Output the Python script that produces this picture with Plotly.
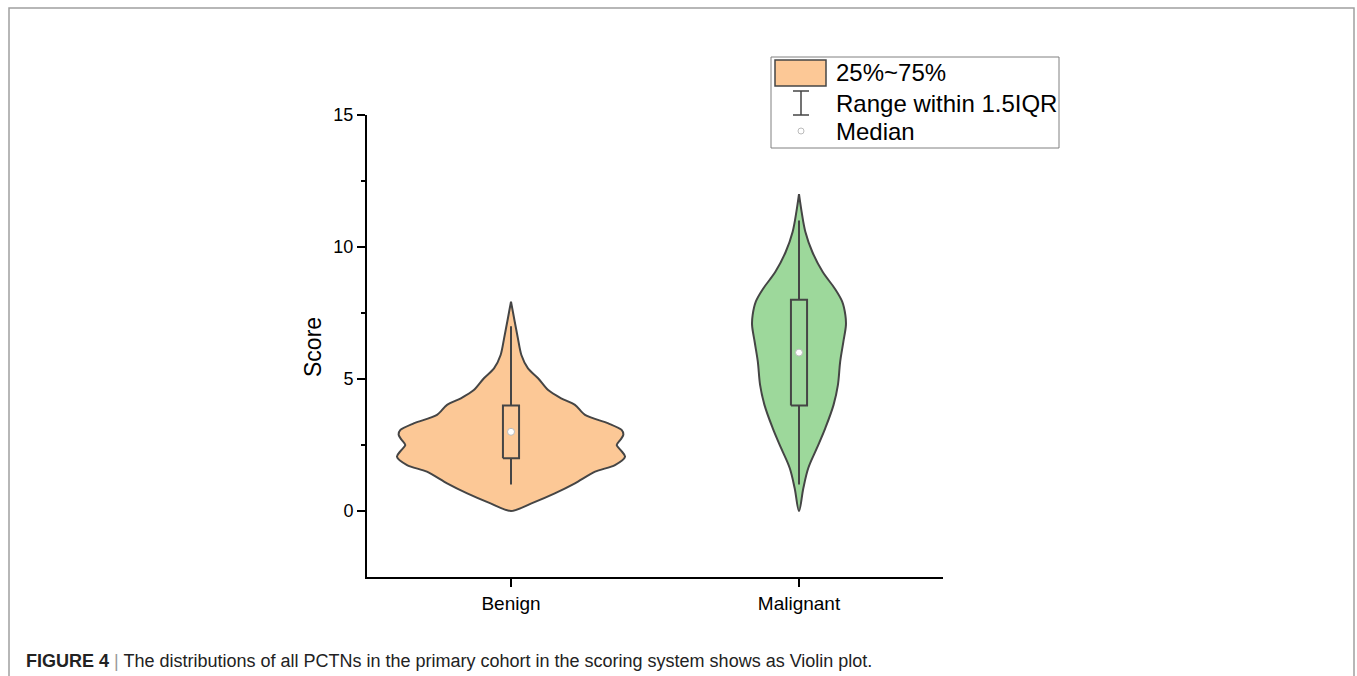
import plotly.graph_objects as go

# ---------------- data ----------------
categories = ["Benign", "Malignant"]

# violin outline: score levels and half-width of the density (in category units)
benign_scores = [0.00, 0.29, 0.67, 1.05, 1.49, 1.74, 2.06, 2.28, 2.50, 2.70, 2.88, 3.07, 3.32,
                 3.64, 4.02, 4.27, 4.58, 5.03, 5.40, 5.91, 6.54, 7.17, 7.93]
benign_width = [0.000, 0.071, 0.152, 0.222, 0.292, 0.361, 0.396, 0.383, 0.367, 0.380, 0.390, 0.384, 0.338,
                0.257, 0.222, 0.174, 0.129, 0.094, 0.059, 0.036, 0.024, 0.013, 0.000]

malignant_scores = [0.00, 0.86, 1.62, 2.38, 3.13, 4.02, 4.77, 5.66, 6.41, 7.05, 7.42, 7.93,
                    8.43, 9.06, 9.82, 10.58, 11.34, 12.00]
malignant_width = [0.000, 0.015, 0.032, 0.062, 0.091, 0.120, 0.135, 0.143, 0.154, 0.163, 0.161, 0.150,
                   0.124, 0.082, 0.046, 0.022, 0.009, 0.000]

# box statistics: [lower whisker, Q1, median, Q3, upper whisker]
benign_stats = [1, 2, 3, 4, 7]
malignant_stats = [1, 4, 6, 8, 11]

y_ticks = [0, 5, 10, 15]
y_minor = [2.5, 7.5, 12.5]

legend_labels = ["25%~75%", "Range within 1.5IQR", "Median"]
caption_bold = "FIGURE 4"
caption_text = "The distributions of all PCTNs in the primary cohort in the scoring system shows as Violin plot."

# ---------------- style ----------------
fills = ["#FCC896", "#9DD89B"]
smooth = [0.8, 1.0]
edge = "#454545"
FONT = "Arial, Liberation Sans, sans-serif"
W, H = 1357, 676
L, R, T, B = 367, 414, 115, 99


def px2x(px):
    return (px - L) / (W - L - R)


def px2y(py):
    return (H - B - py) / (H - T - B)


fig = go.Figure()

profiles = [(benign_scores, benign_width), (malignant_scores, malignant_width)]
stats = [benign_stats, malignant_stats]
box_half = 0.028

for i, (cat, (sc, wd), st) in enumerate(zip(categories, profiles, stats)):
    xs = [i + w for w in wd] + [i - w for w in reversed(wd)]
    ys = list(sc) + list(reversed(sc))
    fig.add_trace(go.Scatter(x=xs, y=ys, mode="lines", fill="toself", fillcolor=fills[i],
                             line=dict(color=edge, width=2, shape="spline", smoothing=smooth[i]),
                             hoverinfo="skip", showlegend=False))
    lo, q1, med, q3, hi = st
    fig.add_trace(go.Scatter(x=[i, i, None, i, i], y=[lo, q1, None, q3, hi], mode="lines",
                             line=dict(color=edge, width=2), hoverinfo="skip", showlegend=False))
    fig.add_trace(go.Scatter(x=[i - box_half, i + box_half, i + box_half, i - box_half, i - box_half],
                             y=[q1, q1, q3, q3, q1], mode="lines",
                             line=dict(color=edge, width=2), hoverinfo="skip", showlegend=False))
    fig.add_trace(go.Scatter(x=[i], y=[med], mode="markers",
                             marker=dict(size=7, color="white", line=dict(color="#BBBBBB", width=1)),
                             hoverinfo="skip", showlegend=False))

shapes = []
# outer frame (open at bottom)
shapes.append(dict(type="path", xref="paper", yref="paper",
                   path=f"M {px2x(9)},{px2y(676)} L {px2x(9)},{px2y(8)} L {px2x(1354)},{px2y(8)} L {px2x(1354)},{px2y(676)}",
                   line=dict(color="#A0A0A0", width=1.5)))
# legend box
shapes.append(dict(type="rect", xref="paper", yref="paper", x0=px2x(771), x1=px2x(1059), y0=px2y(148), y1=px2y(57),
                   line=dict(color="#808080", width=1), fillcolor="white"))
shapes.append(dict(type="rect", xref="paper", yref="paper", x0=px2x(775), x1=px2x(826), y0=px2y(86), y1=px2y(60),
                   line=dict(color=edge, width=1.5), fillcolor=fills[0]))
# I-beam symbol
shapes.append(dict(type="path", xref="paper", yref="paper",
                   path=(f"M {px2x(793)},{px2y(91)} L {px2x(809)},{px2y(91)} "
                         f"M {px2x(801)},{px2y(91)} L {px2x(801)},{px2y(115)} "
                         f"M {px2x(793)},{px2y(115)} L {px2x(809)},{px2y(115)}"),
                   line=dict(color=edge, width=1.5)))
# median symbol
shapes.append(dict(type="circle", xref="paper", yref="paper", x0=px2x(798), x1=px2x(804), y0=px2y(134), y1=px2y(128),
                   line=dict(color="#BBBBBB", width=1), fillcolor="white"))

annotations = []
for lab, yy in zip(legend_labels, [72, 103, 131]):
    annotations.append(dict(text=lab, xref="paper", yref="paper", x=px2x(834), y=px2y(yy),
                            xanchor="left", yanchor="middle", showarrow=False,
                            font=dict(family=FONT, size=24, color="black")))
annotations.append(dict(text="Score", xref="paper", yref="paper", x=px2x(313), y=px2y(347),
                        xanchor="center", yanchor="middle", textangle=-90, showarrow=False,
                        font=dict(family=FONT, size=23, color="black")))
annotations.append(dict(text=f"<b>{caption_bold}</b> <span style='color:#9a9a9a'>|</span> {caption_text}",
                        xref="paper", yref="paper", x=px2x(24), y=px2y(661),
                        xanchor="left", yanchor="middle", showarrow=False,
                        font=dict(family=FONT, size=18, color="#222222")))

fig.update_layout(
    width=W, height=H,
    margin=dict(l=L, r=R, t=T, b=B),
    paper_bgcolor="white", plot_bgcolor="white",
    showlegend=False,
    shapes=shapes, annotations=annotations,
    xaxis=dict(range=[-0.5, 1.5], tickvals=list(range(len(categories))), ticktext=categories,
               showline=True, linecolor="black", linewidth=2, showgrid=False, zeroline=False,
               ticks="outside", ticklen=8, tickwidth=1.5, tickcolor="black",
               tickfont=dict(family=FONT, size=19, color="black")),
    yaxis=dict(range=[-2.5, 15], tickvals=y_ticks,
               showline=True, linecolor="black", linewidth=2, showgrid=False, zeroline=False,
               ticks="outside", ticklen=8, tickwidth=1.5, tickcolor="black",
               tickfont=dict(family=FONT, size=18, color="black"),
               minor=dict(tickvals=y_minor, ticks="outside", ticklen=4, tickwidth=1.5, tickcolor="black")),
)

fig.write_html("out.html", config={"displayModeBar": False},
               post_script="document.body.style.margin='0px';document.body.style.overflow='hidden';")
